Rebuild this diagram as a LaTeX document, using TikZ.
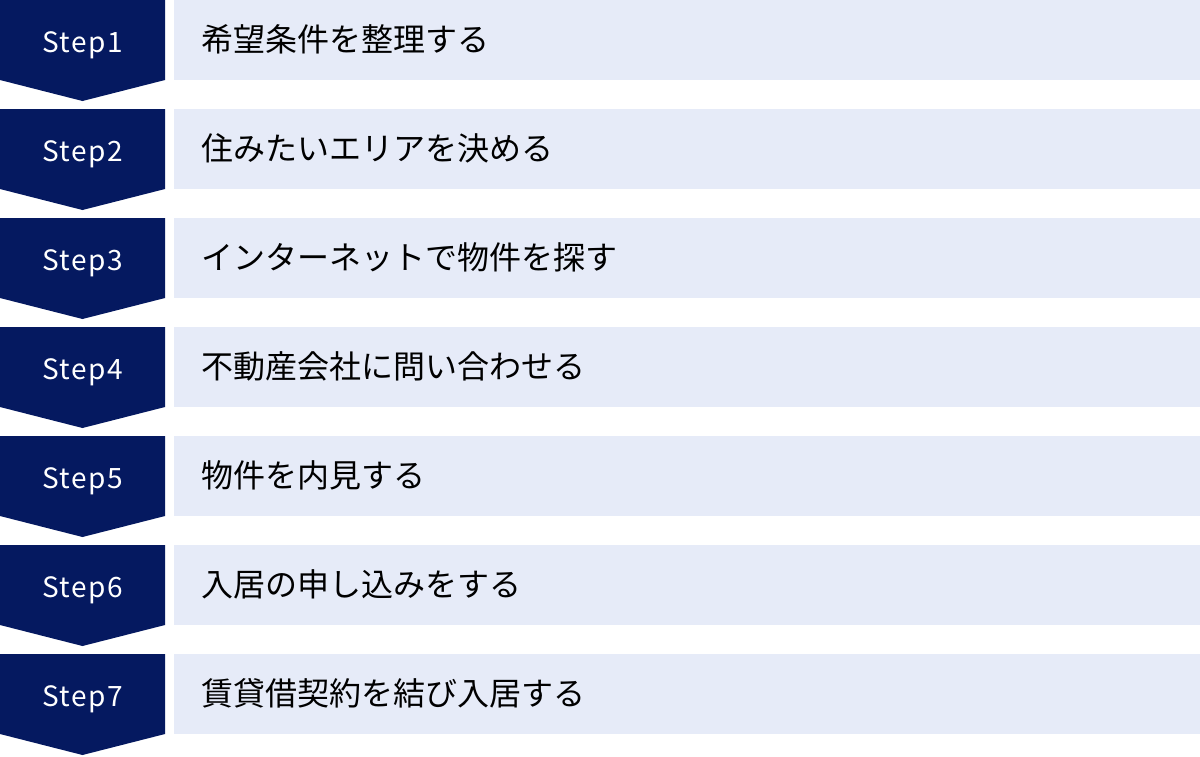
\documentclass[tikz,border=0pt]{standalone}
\usepackage{fontspec}
\setmainfont{Noto Sans CJK JP}
\newfontfamily\stepfont[LetterSpace=5]{Noto Sans CJK JP}
\definecolor{navy}{HTML}{051960}
\definecolor{paleblue}{HTML}{E6EBF8}

\begin{document}
\begin{tikzpicture}[x=1pt,y=-1pt,
  arrowbox/.style={fill=navy},
  bar/.style={fill=paleblue},
  steplabel/.style={text=white,inner sep=0,anchor=base,font=\stepfont\fontsize{28}{32}\selectfont},
  itemlabel/.style={anchor=west,inner sep=0,font=\fontsize{32}{36}\selectfont}]
  \useasboundingbox[fill=white] (0,0) rectangle (1200,756);
  \begin{scope}[shift={(0,0)}]
    \fill[arrowbox] (0,0) -- (165,0) -- (165,80) -- (82.5,101) -- (0,80) -- cycle;
    \fill[bar] (174,0) rectangle (1200,80);
    \node[steplabel] (s1) at (82.5,52) {Step1};
    \node[itemlabel] (t1) at (201,39) {希望条件を整理する};
  \end{scope}
  \begin{scope}[shift={(0,109)}]
    \fill[arrowbox] (0,0) -- (165,0) -- (165,80) -- (82.5,101) -- (0,80) -- cycle;
    \fill[bar] (174,0) rectangle (1200,80);
    \node[steplabel] (s2) at (82.5,52) {Step2};
    \node[itemlabel] (t2) at (201,39) {住みたいエリアを決める};
  \end{scope}
  \begin{scope}[shift={(0,218)}]
    \fill[arrowbox] (0,0) -- (165,0) -- (165,80) -- (82.5,101) -- (0,80) -- cycle;
    \fill[bar] (174,0) rectangle (1200,80);
    \node[steplabel] (s3) at (82.5,52) {Step3};
    \node[itemlabel] (t3) at (201,39) {インターネットで物件を探す};
  \end{scope}
  \begin{scope}[shift={(0,327)}]
    \fill[arrowbox] (0,0) -- (165,0) -- (165,80) -- (82.5,101) -- (0,80) -- cycle;
    \fill[bar] (174,0) rectangle (1200,80);
    \node[steplabel] (s4) at (82.5,52) {Step4};
    \node[itemlabel] (t4) at (201,39) {不動産会社に問い合わせる};
  \end{scope}
  \begin{scope}[shift={(0,436)}]
    \fill[arrowbox] (0,0) -- (165,0) -- (165,80) -- (82.5,101) -- (0,80) -- cycle;
    \fill[bar] (174,0) rectangle (1200,80);
    \node[steplabel] (s5) at (82.5,52) {Step5};
    \node[itemlabel] (t5) at (201,39) {物件を内見する};
  \end{scope}
  \begin{scope}[shift={(0,545)}]
    \fill[arrowbox] (0,0) -- (165,0) -- (165,80) -- (82.5,101) -- (0,80) -- cycle;
    \fill[bar] (174,0) rectangle (1200,80);
    \node[steplabel] (s6) at (82.5,52) {Step6};
    \node[itemlabel] (t6) at (201,39) {入居の申し込みをする};
  \end{scope}
  \begin{scope}[shift={(0,654)}]
    \fill[arrowbox] (0,0) -- (165,0) -- (165,80) -- (82.5,101) -- (0,80) -- cycle;
    \fill[bar] (174,0) rectangle (1200,80);
    \node[steplabel] (s7) at (82.5,52) {Step7};
    \node[itemlabel] (t7) at (201,39) {賃貸借契約を結び入居する};
  \end{scope}
\end{tikzpicture}
\end{document}
